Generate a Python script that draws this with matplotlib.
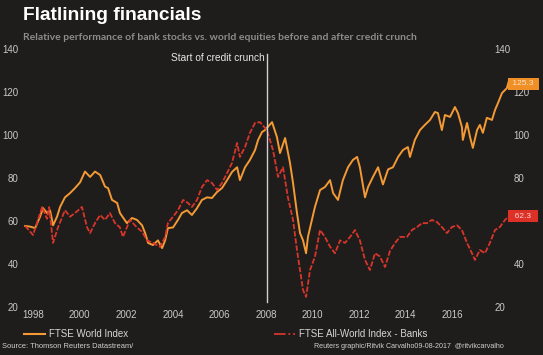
import numpy as np
import matplotlib
matplotlib.use('Agg')
import matplotlib.pyplot as plt
import matplotlib.transforms as mtransforms
from matplotlib.lines import Line2D

#-----data (x in axis-label years)
world_years = [1997.66, 1997.87, 1998.09, 1998.30, 1998.43, 1998.60, 1998.73, 1998.86, 1999.03, 1999.16,
               1999.37, 1999.59, 1999.80, 2000.02, 2000.23, 2000.45, 2000.66, 2000.88, 2001.09, 2001.22,
               2001.39, 2001.61, 2001.73, 2002.03, 2002.25, 2002.46, 2002.68, 2002.81, 2002.94, 2003.15,
               2003.36, 2003.54, 2003.67, 2003.79, 2004.01, 2004.22, 2004.39, 2004.61, 2004.82, 2005.04,
               2005.25, 2005.47, 2005.68, 2005.90, 2006.11, 2006.33, 2006.54, 2006.76, 2006.88, 2007.10,
               2007.31, 2007.53, 2007.66, 2007.83, 2007.96, 2008.26, 2008.47, 2008.60, 2008.82, 2009.03,
               2009.16, 2009.33, 2009.46, 2009.59, 2009.72, 2009.80, 2009.97, 2010.10, 2010.32, 2010.53,
               2010.75, 2010.88, 2011.09, 2011.30, 2011.52, 2011.73, 2011.91, 2012.03, 2012.25, 2012.38,
               2012.59, 2012.81, 2013.02, 2013.24, 2013.45, 2013.67, 2013.88, 2014.09, 2014.18, 2014.39,
               2014.61, 2014.82, 2015.04, 2015.25, 2015.38, 2015.55, 2015.68, 2015.90, 2016.11, 2016.24,
               2016.41, 2016.45, 2016.63, 2016.76, 2016.88, 2017.06, 2017.18, 2017.31, 2017.48, 2017.70,
               2017.83, 2017.96, 2018.13, 2018.34, 2018.43]
world_vals = [57.7, 57.4, 56.7, 62.0, 66.0, 63.7, 65.0, 58.0, 62.0, 66.5,
              71.0, 73.0, 75.3, 78.0, 83.0, 80.5, 83.0, 81.4, 76.0, 75.3,
              69.8, 68.4, 63.7, 59.0, 61.4, 60.5, 58.0, 54.4, 49.8, 48.8,
              51.0, 47.4, 51.0, 56.7, 57.0, 60.5, 63.7, 65.0, 62.8, 66.0,
              69.8, 71.0, 70.7, 73.5, 75.3, 79.0, 82.8, 85.0, 79.0, 85.0,
              88.4, 93.0, 97.7, 101.4, 102.3, 106.0, 99.0, 91.6, 98.6, 87.0,
              77.7, 63.7, 54.4, 51.0, 45.0, 52.6, 60.5, 66.5, 74.4, 75.8,
              79.0, 73.0, 69.8, 79.0, 85.0, 88.4, 89.8, 85.0, 71.0, 75.8,
              80.5, 85.0, 77.0, 84.0, 85.0, 89.8, 93.0, 94.4, 89.8, 97.7,
              102.3, 104.7, 107.0, 110.7, 110.2, 102.3, 109.3, 108.4, 113.0, 110.2,
              103.7, 97.7, 105.6, 99.0, 94.0, 102.3, 104.7, 101.0, 108.0, 107.0,
              111.6, 114.9, 119.5, 121.8, 125.3]

bank_years = [1997.66, 1998.00, 1998.39, 1998.60, 1998.69, 1998.86, 1999.07, 1999.37, 1999.59, 1999.80,
              2000.10, 2000.32, 2000.45, 2000.66, 2000.88, 2001.09, 2001.30, 2001.52, 2001.73, 2001.86,
              2002.16, 2002.46, 2002.68, 2002.89, 2003.15, 2003.45, 2003.67, 2003.79, 2004.01, 2004.22,
              2004.44, 2004.65, 2004.82, 2005.04, 2005.25, 2005.47, 2005.68, 2005.90, 2006.11, 2006.33,
              2006.54, 2006.76, 2006.88, 2007.10, 2007.31, 2007.53, 2007.74, 2008.04, 2008.30, 2008.52,
              2008.73, 2008.94, 2009.16, 2009.33, 2009.46, 2009.59, 2009.72, 2009.89, 2010.10, 2010.32,
              2010.53, 2010.75, 2010.96, 2011.18, 2011.39, 2011.61, 2011.82, 2012.03, 2012.25, 2012.46,
              2012.68, 2012.89, 2013.11, 2013.32, 2013.54, 2013.75, 2014.05, 2014.27, 2014.48, 2014.70,
              2014.91, 2015.12, 2015.34, 2015.55, 2015.77, 2015.98, 2016.20, 2016.41, 2016.63, 2016.84,
              2016.97, 2017.18, 2017.40, 2017.61, 2017.83, 2018.04, 2018.26, 2018.43]
bank_vals = [57.7, 53.5, 66.5, 61.0, 66.5, 49.8, 57.0, 65.0, 62.0, 63.7,
             66.5, 57.0, 54.4, 59.0, 62.8, 60.5, 63.7, 59.0, 57.0, 52.6,
             60.5, 57.0, 55.0, 51.0, 49.8, 48.0, 52.6, 59.0, 62.0, 65.0,
             69.8, 68.4, 66.5, 69.8, 75.8, 79.0, 77.7, 74.4, 77.7, 82.3,
             87.0, 96.3, 89.8, 94.4, 101.0, 105.6, 106.0, 102.3, 93.0, 80.5,
             85.0, 71.0, 60.5, 46.5, 37.2, 27.9, 24.7, 37.2, 43.3, 55.8,
             52.6, 48.0, 45.0, 51.0, 49.8, 52.6, 55.8, 51.0, 41.9, 37.2,
             45.0, 43.5, 38.6, 46.0, 49.8, 52.6, 52.6, 55.8, 57.2, 59.0,
             59.0, 60.5, 59.5, 57.2, 54.4, 57.2, 58.0, 55.8, 49.8, 45.0,
             41.9, 46.5, 45.0, 49.8, 55.8, 57.2, 60.5, 62.3]

year_ticks = [1998, 2000, 2002, 2004, 2006, 2008, 2010, 2012, 2014, 2016]
y_ticks = [20, 40, 60, 80, 100, 120, 140]
crunch_year = 2008.04

bg = '#1f1d1b'
orange = '#f39a35'
red = '#d8352b'
tick_col = '#c9c9c9'

fig = plt.figure(figsize=(5.43, 3.55), dpi=100, facecolor=bg)
ax = fig.add_axes([20/543, 1-307/355, 492/543, 258/355])
ax.set_facecolor(bg)

ax.plot(world_years, world_vals, color=orange, lw=1.4, solid_joinstyle='round')
ax.plot(bank_years, bank_vals, color=red, lw=1.3, linestyle=(0, (3, 1)))

ax.set_xlim(1997.44, 2018.56)
ax.set_ylim(20, 140)
ax.set_xticks(year_ticks)
ax.set_xticklabels([str(y) for y in year_ticks])
ax.set_yticks(y_ticks)
ax.set_yticklabels([str(v) for v in y_ticks])
for s in ax.spines.values():
    s.set_visible(False)
ax.tick_params(axis='both', length=0, colors=tick_col, labelsize=7)
ax.tick_params(axis='x', pad=2)
ax.tick_params(axis='y', pad=1, labelright=True, right=False)
for lab in ax.get_xticklabels() + ax.get_yticklabels():
    lab.set_family('Liberation Sans')

# right-side 140/20 sit further in; right 60 is hidden behind the end box
for tick in ax.yaxis.get_major_ticks():
    if tick.label2.get_text() in ('140', '20'):
        tick.label2.set_transform(tick.label2.get_transform() +
                                  mtransforms.ScaledTranslation(-0.19, 0, fig.dpi_scale_trans))
    if tick.label2.get_text() == '60':
        tick.label2.set_visible(False)

#-----credit crunch marker
ax.axvline(crunch_year, ymin=0.02, ymax=0.98, color='#cfcfcf', lw=1)
ax.text(crunch_year - 0.08, 136, 'Start of credit crunch', color='#e6e6e6', fontsize=7.3,
        family='Liberation Sans', ha='right', va='center')

#-----end value boxes
ax.text(world_years[-1] + 0.05, world_vals[-1] - 1.5, f' {world_vals[-1]:.1f} ', color='#fbe3c4',
        fontsize=6, family='Liberation Sans', ha='left', va='center', zorder=10, clip_on=False,
        bbox=dict(boxstyle='square,pad=0.3', fc='#ef8f25', ec='none'))
ax.text(bank_years[-1] + 0.05, bank_vals[-1], f'  {bank_vals[-1]:.1f}  ', color='#f6d6d0',
        fontsize=6, family='Liberation Sans', ha='left', va='center', zorder=10, clip_on=False,
        bbox=dict(boxstyle='square,pad=0.3', fc='#dd3128', ec='none'))

#-----titles
fig.text(23/543, 1-16/355, 'Flatlining financials', color='white', fontsize=13.8,
         fontweight='bold', family='Liberation Sans', va='center')
fig.text(23/543, 1-37/355, 'Relative performance of bank stocks vs. world equities before and after credit crunch',
         color='#8e8c8a', fontsize=7.45, fontweight='bold', family='Lato', va='center')

#-----legend
leg_kw = dict(frameon=False, handlelength=2.2, handletextpad=0.4,
              borderpad=0, borderaxespad=0, labelcolor='#d6d6d6')
fig.legend(handles=[Line2D([], [], color=orange, lw=1.5)], labels=['FTSE World Index'],
           loc='center left', bbox_to_anchor=(24/543, 1-334/355),
           prop={'family': 'Liberation Sans', 'size': 7}, **leg_kw)
fig.legend(handles=[Line2D([], [], color=red, lw=1.3, linestyle='-.')], labels=['FTSE All-World Index - Banks'],
           loc='center left', bbox_to_anchor=(274/543, 1-334/355),
           prop={'family': 'Liberation Sans', 'size': 7}, **leg_kw)

#-----source lines
fig.text(2/543, 1-347/355, 'Source: Thomson Reuters Datastream/', color='#d0d0d0', fontsize=5.4,
         family='Liberation Sans', va='center')
fig.text(504/543, 1-347/355, 'Reuters graphic/Ritvik Carvalho09-08-2017  @ritvikcarvalho', color='#d0d0d0',
         fontsize=5.15, family='Liberation Sans', va='center', ha='right')

plt.savefig('out.png', dpi=100, facecolor=bg)
